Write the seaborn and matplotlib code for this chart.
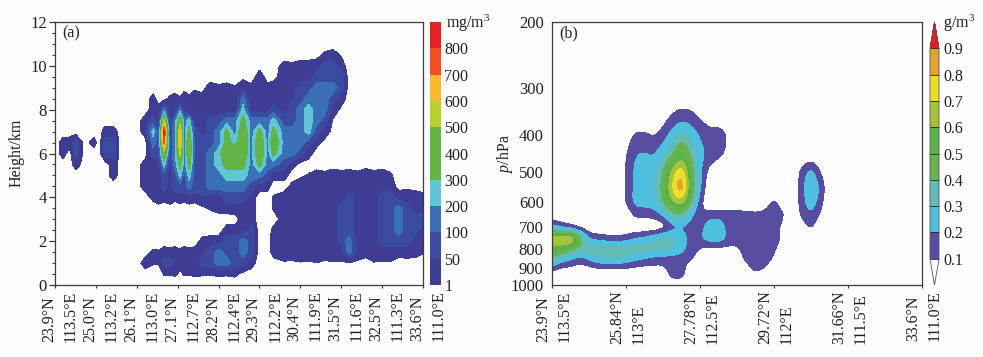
import numpy as np
import matplotlib
matplotlib.use("Agg")
import matplotlib.pyplot as plt
from matplotlib.colors import ListedColormap, BoundaryNorm
from matplotlib.cm import ScalarMappable
from matplotlib.ticker import MultipleLocator, NullLocator
from matplotlib.transforms import ScaledTranslation
import seaborn as sns

sns.set_theme(style="ticks")
FONT = "Liberation Serif"
plt.rcParams["font.family"] = [FONT, "DejaVu Serif"]
plt.rcParams["mathtext.fontset"] = "custom"
plt.rcParams["mathtext.rm"] = FONT
plt.rcParams["mathtext.it"] = FONT + ":italic"
plt.rcParams["mathtext.default"] = "regular"

# ---------- panel (a): band index of cloud water content, station x height ----------
a_ticklabels = ["23.9°N\n113.5°E", "25.0°N\n113.2°E", "26.1°N\n113.0°E", "27.1°N\n112.7°E", "28.2°N\n112.4°E",
                "29.3°N\n112.2°E", "30.4°N\n111.9°E", "31.5°N\n111.6°E", "32.5°N\n111.3°E", "33.6°N\n111.0°E"]
a_band_labels = ["1", "50", "100", "200", "300", "400", "500", "600", "700", "800"]
a_colors = ["#3f3c93", "#3b4ca0", "#3a70b5", "#5fc6d4", "#62b446", "#62b446",
            "#b9cf2c", "#fbb92e", "#f04e27", "#e71f26"]
a_station = [0, .2, .35, .51, .73, .95, 1.08, 1.22, 1.43, 1.61,
             2, 2.2, 2.4, 2.53, 2.67, 2.81, 2.93, 3.06, 3.16, 3.28,
             3.42, 3.6, 3.8, 4, 4.2, 4.4, 4.6, 4.8, 5, 5.2,
             5.34, 5.6, 5.8, 6, 6.2, 6.4, 6.6, 6.8, 7, 7.2,
             7.4, 7.6, 7.8, 8, 8.2, 8.4, 8.6, 8.8, 9]
a_height = [0, .5, 1, 1.5, 2, 2.5, 3, 3.5, 4, 4.5, 5, 5.5, 6, 6.5, 7, 7.5, 8, 8.5, 9, 9.5, 10, 10.5, 11]

z_00 = [0] * 49
z_05 = [0,0,0,0,0,0,0,0,0,0, 0,0,0,0,.6,.55,.65,.3,.6,.55, .65,.6,.55,.65,.6,.7,.2,0,0,0, 0,0,0,0,0,0,0,0,0,0, 0,0,0,0,0,0,0,0,0]
z_10 = [0,0,0,0,0,0,0,0,0,0, 0,1,.6,.6,2,2,1,1,1,1, 1,2,2,3,3,2,2,1,0,0, 0,.4,.35,.45,.4,.48,.35,.42,.4,.45, .35,0,.45,.38,.42,0,.1,0,0]
z_15 = [0,0,0,0,0,0,0,0,0,0, 0,0,.7,.6,1,.8,1,.7,1,.8, 1,1,2,3,2,2,3,2,0,0, 1,1,1,1,1,1,1,1,1,3, 1,1,1,1,1,1,1,1,.6]
z_20 = [0,0,0,0,0,0,0,0,0,0, 0,0,0,0,0,0,0,0,0,0, 0,.8,1,1,2,2,3,2,0,0, 1,1,1,1,1,1,1,1,2,3, 1,1,1,2,2,2,2,1,1]
z_25 = [0,0,0,0,0,0,0,0,0,0, 0,0,0,0,0,0,0,0,0,0, 0,0,0,0,1,1,1,2,0,0, .8,1,1,1,1,1,1,1,2,2, 1,1,1,2,2,3,2,2,1]
z_30 = [0,0,0,0,0,0,0,0,0,0, 0,0,0,0,0,0,0,0,0,0, 0,0,0,0,0,0,1,1,0,0, 0,1,1,1,1,1,1,1,2,2, 1,1,1,2,2,3,2,2,2]
z_35 = [0,0,0,0,0,0,0,0,0,0, 0,0,0,0,0,0,0,0,0,0, 0,.3,.6,.9,1,1.2,1,1,0,0, .6,1,1,1,1,1,1,1,2,2, 1,1,1,2,2,3,2,1,1]
z_40 = [0,0,0,0,0,0,0,0,0,0, 0,0,.8,1.3,.9,1.4,.8,1.2,.9,1.3, 1,1.4,1,1,2,2,2,1,0,0, .6,1,1,1,1,1,1,1,1,2, 1,1,1,2,2,1,1,1,.8]
z_45 = [0,0,0,0,0,0,0,0,0,0, 0,1,1,1,2,1,2,2,2,3, 2,2,3,3,3,3,3,2,1,.9, 0,0,.8,1.2,1,1,1,1,1,1, 1,1,1,1,1,.2,.3,.2,.1]
z_50 = [0,0,0,0,0,0,0,0,1,0, 0,1,1,1,2,1,2,4,2,4, 2,2,3,3,4,4,4,3,3,2, .9,1,0,.3,.6,1,.8,1.2,.9,1.1, .8,1.3,.9,1.2,.7,0,0,0,0]
z_55 = [0,0,0,1,0,0,0,0,1,0, 0,1,1,1,4,1,3,5,3,5, 2,2,3,4,5,5,5,3,5,3, 3,2,.9,.2,0,0,0,0,0,0, 0,0,0,0,0,0,0,0,0]
z_60 = [0,1,0,2,0,0,0,2,2,0, 0,0,2,2,6,2,3,7,3,6, 2,2,3,4,6,6,6,3,6,3, 5,3,3,2,1,0,0,0,0,0, 0,0,0,0,0,0,0,0,0]
z_65 = [0,1,1,2,0,1,0,2,2,0, 0,0,3,2,9,2,3,8,3,6, 2,2,2,3,5,4,6,3,6,3, 6,3,3,3,2,.9,.2,0,0,0, 0,0,0,0,0,0,0,0,0]
z_70 = [0,0,0,0,0,0,0,1,1,0, 0,1,4,2,10,2,3,8,3,5, 2,1,2,3,5,3,6,3,5,3, 5,3,3,3,4,2,1,.2,0,0, 0,0,0,0,0,0,0,0,0]
z_75 = [0,0,0,0,0,0,0,0,0,0, 0,1,2,1,7,1,3,6,3,4, 1,1,2,2,3,3,5,3,3,3, 4,2,2,3,4,3,2,.4,0,0, 0,0,0,0,0,0,0,0,0]
z_80 = [0,0,0,0,0,0,0,0,0,0, 0,0,1,.9,3,1.2,1,3,1,1, 1,1,1,1,1,1,4,1,1,1, 2,1,2,3,4,3,3,1,.3,0, 0,0,0,0,0,0,0,0,0]
z_85 = [0,0,0,0,0,0,0,0,0,0, 0,0,.9,.1,.2,.7,1,.6,1.1,.7, 1.2,.8,1.3,.8,1.1,.7,3,.9,1.2,.7, 1,.8,1.2,2,3,3,3,2,1,0, 0,0,0,0,0,0,0,0,0]
z_90 = [0,0,0,0,0,0,0,0,0,0, 0,0,0,0,0,0,0,0,.2,.1, .3,.2,1,.7,.9,.6,1.3,.8,1.5,.8, 1,.9,1.2,2,2,3,3,3,2,0, 0,0,0,0,0,0,0,0,0]
z_95 = [0,0,0,0,0,0,0,0,0,0, 0,0,0,0,0,0,0,0,0,0, 0,0,0,0,0,0,.2,0,1,.1, .2,1,.8,1.2,1,2,2,2,2,0, 0,0,0,0,0,0,0,0,0]
z_100 = [0,0,0,0,0,0,0,0,0,0, 0,0,0,0,0,0,0,0,0,0, 0,0,0,0,0,0,0,0,.2,0, 0,.9,.7,1,.8,1,2,2,1,0, 0,0,0,0,0,0,0,0,0]
z_105 = [0,0,0,0,0,0,0,0,0,0, 0,0,0,0,0,0,0,0,0,0, 0,0,0,0,0,0,0,0,0,0, 0,0,0,0,.2,.2,.7,1,.4,0, 0,0,0,0,0,0,0,0,0]
z_110 = [0] * 49

# ---------- panel (b): content in tenths of g/m3, station x pressure ----------
b_ticklabels = ["23.9°N\n113.5°E", "25.84°N\n113°E", "27.78°N\n112.5°E", "29.72°N\n112°E", "31.66°N\n111.5°E", "33.6°N\n111.0°E"]
b_colors = ["#564ea0", "#4fbfe0", "#62bcb5", "#66b44f", "#5cb148", "#a6c43b", "#ecdf2c", "#e2a52e", "#e21f26"]
b_levels = [1, 2, 3, 4, 5, 6, 7, 8, 9]
b_level_labels = ["0.1", "0.2", "0.3", "0.4", "0.5", "0.6", "0.7", "0.8", "0.9"]
b_pressure = [300, 350, 400, 450, 500, 550, 600, 650, 700, 750, 800, 850, 900, 950, 1000]
b_pticks = [200, 300, 400, 500, 600, 700, 800, 900, 1000]

p_300 = [0] * 31
p_350 = [0,0,0,0,0,0,0,0,0,0, 0,0,.3,.9,1.2,1.1,.6,.4,.3,.2, 0,0,0,0,0,0,0,0,0,0,0]
p_400 = [0,0,0,0,0,0,0,0,.4,1.2, 1.2,.9,1.4,2.5,3.5,2.8,1.9,1.3,1.5,1, 0,0,0,0,0,0,0,0,0,0,0]
p_450 = [0,0,0,0,0,0,0,0,.9,2, 2.2,1.9,2.8,3.9,5.6,3.9,2.4,1.7,1.3,.8, 0,0,0,0,0,0,0,0,0,0,0]
p_500 = [0,0,0,0,0,0,0,0,1.1,2.3, 2.3,2.6,4,6.5,8,4.8,2.2,.5,0,0, 0,0,0,0,0,0,0,1.4,2.6,.9,0]
p_550 = [0,0,0,0,0,0,0,0,1.1,2.3, 2.3,2.8,4.4,7.2,9.2,5,2.2,0,0,0, 0,0,0,0,0,0,0,1.5,3.2,1.9,0]
p_600 = [0,0,0,0,0,0,0,0,1.1,2.4, 2.5,2.6,4,6,6.8,4.2,1.3,0,0,0, 0,0,0,.4,1.3,.3,0,1.5,2.8,1.4,0]
p_650 = [0,0,0,0,0,0,0,0,0,1.3, 1.3,1.4,2.1,3.5,3.8,2.3,.9,1.5,1.5,1.5, 1.5,1.4,1.3,1.3,1.6,1.2,0,1.2,1.9,.9,0]
p_700 = [2.3,1.5,1,.5,0,0,0,0,0,0, 0,0,.3,1.5,1.8,1.5,1.4,2.8,2.9,1.5, 1.4,1.3,1.3,1.5,1.4,.7,0,.4,1.3,0,0]
p_750 = [7.2,7.3,7.8,4.6,1.9,1.5,1.3,1.2,1.4,2, 2.2,2.8,3.3,3.3,2.6,1.6,1.9,2.6,2.8,1.8, 1.5,1.5,1.6,1.6,1.4,.8,0,0,0,0,0]
p_800 = [5.6,5.4,4.5,3.7,3.6,3.7,3.6,3.5,3.6,3.6, 3.5,3.3,3.3,3,2.3,1.6,.9,.7,.7,.7, .8,1.5,1.7,1.7,1.2,.4,0,0,0,0,0]
p_850 = [3.9,2.7,2.1,1.5,2.2,2.9,3.1,3.2,2.8,2.3, 2,1.7,1.6,1.5,1.6,1.2,.3,0,0,0, .2,1.4,1.7,1.7,.8,0,0,0,0,0,0]
p_900 = [1.5,.9,.8,.5,.7,1,1,1,1,.8, .7,.7,.7,1.7,1.7,0,0,0,0,0, 0,.4,1.7,1,0,0,0,0,0,0,0]
p_950 = [0,0,0,0,0,0,0,0,0,0, 0,0,0,1.3,1.3,0,0,0,0,0, 0,0,0,0,0,0,0,0,0,0,0]
p_1000 = [0] * 31

a_grid = np.array([z_00, z_05, z_10, z_15, z_20, z_25, z_30, z_35, z_40, z_45, z_50, z_55, z_60, z_65,
                   z_70, z_75, z_80, z_85, z_90, z_95, z_100, z_105, z_110], dtype=float)
b_grid = np.array([p_300, p_350, p_400, p_450, p_500, p_550, p_600, p_650, p_700, p_750, p_800, p_850,
                   p_900, p_950, p_1000], dtype=float)
b_station = np.arange(b_grid.shape[1]) * 0.125


def rounded(grid, xs, ys, factor=4):
    """Resample the read grid finer and soften it, so the filled contours come out round."""
    xs, ys = np.asarray(xs, float), np.asarray(ys, float)
    ix = np.linspace(0, len(xs) - 1, (len(xs) - 1) * factor + 1)
    iy = np.linspace(0, len(ys) - 1, (len(ys) - 1) * factor + 1)
    fine = np.array([np.interp(ix, np.arange(len(xs)), row) for row in grid])
    fine = np.array([np.interp(iy, np.arange(len(ys)), col) for col in fine.T]).T
    kernel = np.array([1, 2, 3, 2, 1], float) / 9
    for axis in (0, 1):
        fine = np.apply_along_axis(lambda v: np.convolve(np.pad(v, 2, mode="edge"), kernel, "valid"), axis, fine)
    return np.interp(ix, np.arange(len(xs)), xs), np.interp(iy, np.arange(len(ys)), ys), fine


W, H = 983, 357
TXT = "#222222"
EDGE = "#3c3c3c"
FS = 11.5


def rect(x0, y0, x1, y1):
    return [x0 / W, 1 - y1 / H, (x1 - x0) / W, (y1 - y0) / H]


def nudge_labels(ax, px):
    offset = ScaledTranslation(px / 100, 0, ax.figure.dpi_scale_trans)
    for label in ax.get_xticklabels():
        label.set_transform(label.get_transform() + offset)


fig = plt.figure(figsize=(W / 100, H / 100), dpi=100, facecolor="#fcfcfc")
ax_a = fig.add_axes(rect(55, 22, 423, 285), facecolor="#fdfdfd")
cax_a = fig.add_axes(rect(430, 22, 441, 285))
ax_b = fig.add_axes(rect(552, 22, 922, 285), facecolor="#fdfdfd")
cax_b = fig.add_axes(rect(930, 22, 939, 285))

# (a)
a_levels = np.arange(0.5, 11.0, 1.0)
cs_a = ax_a.contourf(a_station, a_height, a_grid, levels=a_levels, colors=sns.color_palette(a_colors))
ax_a.set_xlim(0, 9)
ax_a.set_ylim(0, 12)
ax_a.set_xticks(range(len(a_ticklabels)))
ax_a.set_xticklabels(a_ticklabels, rotation=90, ha="center", va="top", ma="left",
                     fontsize=FS, color=TXT, linespacing=1.45)
ax_a.yaxis.set_major_locator(MultipleLocator(2))
ax_a.yaxis.set_minor_locator(MultipleLocator(0.5))
ax_a.tick_params(axis="y", which="major", length=4, width=0.9, color=EDGE, labelsize=FS + 0.5, labelcolor=TXT, pad=2)
ax_a.tick_params(axis="y", which="minor", length=2.5, width=0.8, color=EDGE)
ax_a.tick_params(axis="x", which="major", length=2.5, width=0.9, color=EDGE, pad=1.5)
nudge_labels(ax_a, 5)
for s in ax_a.spines.values():
    s.set_color(EDGE)
    s.set_linewidth(0.9)
cb_a = fig.colorbar(cs_a, cax=cax_a, ticks=a_levels[:-1])
cb_a.set_ticklabels(a_band_labels)
cb_a.ax.tick_params(length=0, labelsize=FS, labelcolor=TXT, pad=2.5)
cb_a.outline.set_visible(False)
fig.text(62 / W, 1 - 33 / H, "(a)", fontsize=FS, color=TXT, va="center", ha="left")
fig.text(17 / W, 1 - 153 / H, "Height/km", fontsize=FS, color=TXT, rotation=90, va="center", ha="center")
fig.text(446 / W, 1 - 23 / H, "mg/m$^{3}$", fontsize=FS, color=TXT, va="center", ha="left")

# (b)
bx, bp, bz = rounded(b_grid, b_station, b_pressure)
cs_b = ax_b.contourf(bx, bp, bz, levels=b_levels, colors=sns.color_palette(b_colors), extend="max")
ax_b.set_yscale("log")
ax_b.set_ylim(1000, 200)
ax_b.set_xlim(0, 5)
ax_b.set_yticks(b_pticks)
ax_b.set_yticklabels([str(v) for v in b_pticks])
ax_b.yaxis.set_minor_locator(NullLocator())
ax_b.set_xticks(range(len(b_ticklabels)))
ax_b.set_xticklabels(b_ticklabels, rotation=90, ha="center", va="top", ma="left",
                     fontsize=FS, color=TXT, linespacing=1.45)
ax_b.tick_params(axis="y", which="major", length=0, labelsize=FS + 0.5, labelcolor=TXT, pad=6)
ax_b.tick_params(axis="x", which="major", length=2, width=0.8, color=EDGE, pad=2)
nudge_labels(ax_b, 2)
for s in ax_b.spines.values():
    s.set_color(EDGE)
    s.set_linewidth(0.9)

cmap_b = ListedColormap(b_colors[:-1])
cmap_b.set_over(b_colors[-1])
cmap_b.set_under("white")
norm_b = BoundaryNorm(b_levels, cmap_b.N)
cb_b = fig.colorbar(ScalarMappable(norm=norm_b, cmap=cmap_b), cax=cax_b, extend="both",
                    extendfrac=1 / 8, ticks=b_levels, spacing="uniform", drawedges=True)
cb_b.set_ticklabels(b_level_labels)
cb_b.ax.tick_params(length=0, labelsize=FS, labelcolor=TXT, pad=3)
cb_b.outline.set_edgecolor("#555555")
cb_b.outline.set_linewidth(0.6)
cb_b.dividers.set_color("#222222")
cb_b.dividers.set_linewidth(0.6)
fig.text(559 / W, 1 - 33 / H, "(b)", fontsize=FS, color=TXT, va="center", ha="left")
fig.text(505 / W, 1 - 153 / H, "$\\mathit{p}$/hPa", fontsize=FS, color=TXT, rotation=90, va="center", ha="center")
fig.text(943 / W, 1 - 23 / H, "g/m$^{3}$", fontsize=FS, color=TXT, va="center", ha="left")

fig.savefig("out.png", dpi=100, facecolor=fig.get_facecolor())
